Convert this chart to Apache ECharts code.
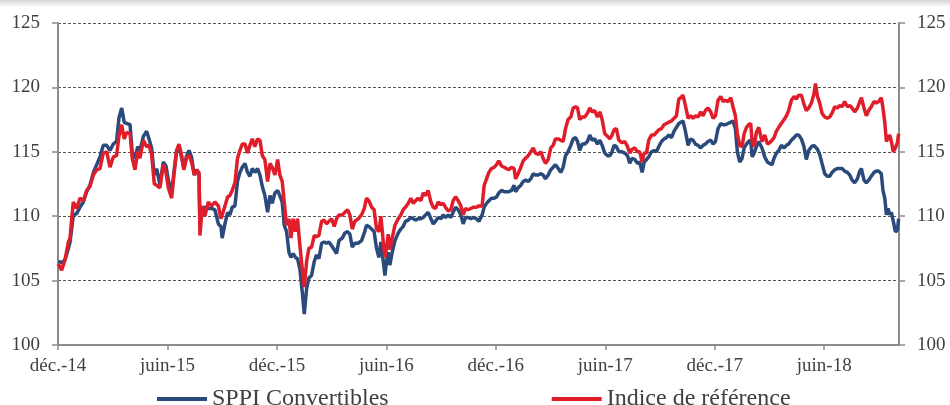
<!DOCTYPE html>
<html>
<head>
<meta charset="utf-8">
<script src="https://cdn.jsdelivr.net/npm/echarts@6/dist/echarts.min.js"></script>
<style>
  html, body { margin: 0; padding: 0; background: #ffffff; }
  #chart { width: 950px; height: 405px; }
</style>
</head>
<body>
<div id="chart"></div>
<script>
// Time position of each sample, in months since 1 Dec 2014
const months = [
  0.02,0.20,0.38,0.57,0.66,0.75,0.84,1.02,1.21,1.39,
  1.57,1.75,1.94,2.12,2.30,2.48,2.67,2.85,3.03,3.21,
  3.34,3.49,3.63,3.76,3.95,4.07,4.22,4.37,4.49,4.68,
  4.86,4.99,5.13,5.28,5.41,5.59,5.77,5.92,6.05,6.23,
  6.37,6.50,6.63,6.78,6.90,7.05,7.18,7.32,7.47,7.60,7.73,
  7.78,7.91,8.05,8.24,8.42,8.60,8.79,8.93,9.00,9.15,
  9.30,9.42,9.55,9.70,9.84,9.97,10.10,10.25,10.39,10.52,
  10.65,10.79,10.94,11.07,11.20,11.34,11.49,11.62,11.74,11.89,
  12.04,12.16,12.29,12.40,12.53,12.66,12.77,12.89,13.02,13.13,
  13.26,13.39,13.50,13.63,13.75,13.90,14.05,14.17,14.30,14.45,
  14.59,14.72,14.85,15.00,15.14,15.27,15.40,
  15.58,15.73,15.87,16.00,16.13,16.27,16.46,16.64,16.79,16.91,
  17.04,17.19,17.33,17.46,17.59,17.70,17.83,17.92,18.01,18.10,
  18.19,18.32,18.47,18.65,18.79,18.92,19.05,19.20,19.34,19.47,
  19.60,19.74,19.89,20.02,20.15,20.29,20.44,20.57,20.69,20.84,
  20.99,21.11,21.24,21.39,21.53,21.66,21.79,21.94,22.08,22.21,
  22.34,22.48,22.63,22.76,22.94,23.07,
  23.25,23.36,23.49,23.62,23.76,23.91,24.04,24.16,24.31,24.46,
  24.58,24.71,24.86,25.00,25.08,25.22,25.37,25.50,25.63,25.77,
  25.92,26.05,26.17,26.32,26.47,26.59,26.72,26.87,27.01,27.14,
  27.27,27.42,27.56,27.69,27.82,27.96,28.11,28.24,28.37,28.48,
  28.60,28.73,28.88,29.02,29.15,29.28,29.42,29.57,29.70,29.83,
  29.97,30.12,30.25,30.37,30.48,30.61,30.74,
  30.92,31.07,31.22,31.34,31.47,31.62,31.76,31.89,32.02,32.13,
  32.26,32.38,32.53,32.68,32.80,32.93,33.08,33.22,33.35,33.48,
  33.63,33.77,33.90,34.03,34.14,34.26,34.39,34.54,34.68,34.81,
  34.94,35.09,35.23,35.36,35.49,35.63,35.78,35.91,36.04,36.18,
  36.33,36.46,36.58,36.73,36.88,37.00,37.13,37.24,37.37,37.50,
  37.61,37.74,37.86,37.97,38.05,38.16,38.28,38.41,
  38.59,38.74,38.89,39.01,39.14,39.25,39.38,39.51,39.65,39.80,
  39.93,40.05,40.20,40.35,40.47,40.60,40.75,40.89,41.02,41.15,
  41.30,41.44,41.52,41.63,41.75,41.88,42.03,42.17,42.30,42.43,
  42.58,42.72,42.85,42.98,43.12,43.27,43.40,43.53,43.67,43.82,
  43.95,44.04,44.18,44.31,44.44,44.58,44.73,44.86,44.99,45.13,
  45.22,45.32,45.41,45.50,45.59,45.68,45.79,45.90,46.01,46.08
];

const sppiConvertibles = [
  106.5,106.4,106.6,107.5,108.0,109.0,110.1,110.2,110.7,111.1,
  111.9,112.4,113.4,114.0,114.6,115.5,115.5,115.1,115.6,115.8,
  117.6,118.4,117.3,117.2,117.1,114.9,114.5,115.4,115.1,116.2,
  116.6,116.0,115.3,113.2,113.7,112.4,114.2,113.9,112.8,111.8,
  113.6,115.0,115.5,114.5,113.7,114.7,115.1,114.6,113.2,113.6,113.2,
  109.5,110.4,110.7,110.6,110.6,110.5,109.4,109.2,108.3,109.4,
  110.3,110.1,110.7,110.8,112.7,113.4,113.8,114.1,113.4,113.1,
  113.7,113.4,113.7,113.2,112.3,111.6,110.3,111.6,111.0,111.8,
  112.0,111.6,111.1,109.3,108.8,107.2,106.8,107.1,106.8,106.7,
  105.9,104.1,102.4,104.4,105.2,105.4,106.5,107.0,106.7,107.9,
  108.0,107.9,108.0,107.7,107.4,107.1,108.1,
  108.3,108.7,108.8,108.6,107.6,107.9,107.9,108.1,108.7,109.3,
  109.2,109.0,108.8,107.5,106.8,108.0,106.5,105.4,106.5,107.2,
  106.2,107.2,108.1,108.7,109.0,109.2,109.6,109.7,109.9,109.8,
  109.7,109.8,109.8,109.9,110.1,110.3,109.8,109.4,109.6,109.9,
  109.8,110.1,109.9,110.1,109.9,110.3,110.7,110.5,110.1,109.4,
  109.9,109.9,109.8,109.9,109.8,109.6,
  110.1,110.7,111.0,111.2,111.4,111.4,111.5,111.8,112.0,111.9,
  111.9,111.9,112.0,112.4,111.9,112.2,112.4,112.7,112.8,112.7,
  112.9,113.3,113.2,113.2,113.3,113.2,112.9,113.2,113.6,113.8,
  114.0,113.7,113.4,113.8,114.7,115.0,115.5,116.0,116.1,115.8,
  115.1,115.6,115.6,115.8,116.3,115.9,116.0,115.6,115.9,115.5,
  114.9,114.7,114.7,115.0,115.5,115.4,115.0,
  115.0,114.9,114.7,114.1,114.5,114.4,114.1,114.2,113.4,114.2,
  114.4,114.6,115.0,115.1,115.0,115.4,115.8,116.0,116.1,116.3,
  116.1,116.6,116.9,117.2,117.3,117.4,116.6,115.5,116.0,115.9,
  115.6,115.5,115.3,115.5,115.6,115.8,115.9,115.6,115.8,116.8,
  117.2,117.1,117.1,117.2,117.3,117.4,116.8,115.0,114.2,114.5,
  115.3,115.6,115.8,115.9,114.6,114.9,115.4,115.8,
  115.3,114.6,114.2,114.1,114.0,114.5,114.9,115.1,115.5,115.3,
  115.5,115.6,115.9,116.1,116.3,116.3,116.0,115.4,114.4,115.1,
  115.4,115.5,115.4,115.2,114.8,114.1,113.3,113.1,113.1,113.4,
  113.6,113.7,113.7,113.7,113.5,113.4,113.2,112.8,112.6,112.9,
  113.5,113.7,112.8,112.6,112.8,113.1,113.4,113.5,113.5,113.3,
  112.0,111.4,110.1,110.6,110.1,110.3,109.6,108.8,108.9,109.8
];

const indiceReference = [
  106.3,105.8,106.6,108.0,108.3,109.8,111.1,110.6,111.4,111.2,
  112.0,112.3,113.2,113.6,113.7,114.9,115.0,113.8,114.6,114.7,
  116.2,117.1,116.0,116.5,116.4,114.5,113.6,115.0,114.5,115.9,
  115.4,115.5,114.8,112.5,112.4,112.2,114.0,113.4,112.2,111.4,
  113.4,115.1,115.6,114.7,113.6,114.6,114.7,114.2,113.2,113.6,113.4,
  108.5,110.8,110.0,111.1,110.8,111.1,110.8,109.8,110.1,110.8,
  111.5,111.6,112.0,112.6,114.5,115.1,115.6,115.6,114.9,115.5,
  116.0,115.4,116.0,115.9,114.7,114.4,112.7,114.1,113.8,113.2,
  114.4,113.2,112.7,111.1,109.3,109.8,108.3,109.8,108.8,109.8,
  107.7,105.9,104.5,106.5,107.5,107.6,108.5,108.4,108.5,109.6,
  109.7,109.4,109.6,109.8,109.2,109.8,110.1,
  110.1,110.3,110.5,110.1,109.0,109.6,109.8,110.1,110.6,111.4,
  111.2,110.7,110.5,109.0,108.8,110.0,108.0,106.8,107.5,108.6,
  107.4,108.3,109.3,109.8,110.1,110.5,110.7,111.0,111.4,111.0,
  111.2,111.4,111.2,111.8,111.6,112.0,111.1,110.7,110.6,111.1,
  110.9,111.0,110.7,110.4,110.5,111.2,111.5,111.2,110.8,110.1,
  110.6,110.5,110.6,110.7,110.7,110.8,
  110.8,112.4,112.9,113.4,113.7,113.8,114.0,114.3,113.9,113.8,
  113.7,113.6,113.8,113.7,112.9,113.3,113.8,114.3,114.5,114.7,
  115.0,115.3,114.9,114.8,115.0,114.5,114.1,114.4,115.3,115.5,
  116.0,116.0,115.9,115.8,116.8,117.5,117.7,118.4,118.5,118.4,
  117.5,117.7,117.7,118.0,118.4,118.1,118.2,117.7,118.1,117.5,
  116.4,116.2,116.0,116.3,116.7,116.8,115.9,
  115.7,115.8,115.4,114.9,115.2,115.3,115.0,115.0,114.2,114.9,
  114.9,115.9,116.3,116.3,116.5,116.7,116.8,117.1,117.2,117.3,
  117.4,117.6,117.8,119.1,119.2,119.4,118.6,117.6,117.8,117.6,
  117.8,117.7,118.1,117.8,118.2,118.4,118.1,117.6,117.8,119.0,
  119.3,118.9,119.0,118.9,119.2,118.5,117.8,116.4,115.5,115.4,
  116.4,116.9,117.1,117.2,115.8,115.4,116.5,116.9,
  115.8,116.3,115.6,115.7,115.9,116.1,116.6,116.9,117.2,117.5,
  117.8,118.2,119.0,119.3,119.1,119.4,119.4,118.7,118.2,118.4,
  118.8,119.5,120.3,119.3,118.8,118.0,117.7,117.6,117.7,118.0,
  118.5,118.4,118.6,118.5,118.9,118.5,118.6,118.4,118.1,118.4,
  118.9,119.2,118.4,117.8,118.2,118.5,118.9,118.8,118.9,119.2,
  118.4,117.3,115.8,115.7,116.3,115.8,115.0,115.3,115.7,116.4
];

const tickLabels = ['déc.-14','juin-15','déc.-15','juin-16','déc.-16','juin-17','déc.-17','juin-18'];
const seriesNames = ['SPPI Convertibles','Indice de référence'];

const FONT = '"Liberation Serif", "DejaVu Serif", serif';
const axisGrey = '#8c8c8c';
const textCol = '#404040';

function zip(xs, ys) { return xs.map((x, i) => [x, ys[i]]); }

const chart = echarts.init(document.getElementById('chart'), null, { renderer: 'canvas' });

const yAxisCommon = {
  type: 'value', min: 100, max: 125, interval: 5,
  axisLine: { show: true, lineStyle: { color: axisGrey, width: 2 } },
  axisTick: { show: true, inside: false, length: 6, lineStyle: { color: axisGrey, width: 1.5 } },
  axisLabel: { fontFamily: FONT, fontSize: 19, color: textCol, margin: 18 }
};

chart.setOption({
  animation: false,
  backgroundColor: '#ffffff',
  graphic: [{
    type: 'rect', left: 0, top: 0, silent: true,
    shape: { width: 950, height: 7 },
    style: { fill: new echarts.graphic.LinearGradient(0, 0, 0, 1, [
      { offset: 0, color: 'rgba(0,0,0,0.16)' }, { offset: 1, color: 'rgba(0,0,0,0)' }]) }
  }],
  grid: { left: 58, right: 51, top: 23, bottom: 60, containLabel: false },
  legend: {
    data: seriesNames,
    left: 152, top: 382,
    icon: 'rect', itemWidth: 50, itemHeight: 4, itemGap: 163,
    textStyle: { fontFamily: FONT, fontSize: 24, color: textCol }
  },
  xAxis: {
    type: 'value', min: 0, max: 46.1, interval: 6,
    axisLine: { show: true, onZero: false, lineStyle: { color: axisGrey, width: 2 } },
    axisTick: { show: true, inside: false, length: 5, lineStyle: { color: axisGrey, width: 1.5 } },
    splitLine: { show: false },
    axisLabel: {
      fontFamily: FONT, fontSize: 19, color: textCol, margin: 12,
      showMaxLabel: false,
      formatter: v => (Math.abs(v / 6 - Math.round(v / 6)) < 1e-6 ? (tickLabels[Math.round(v / 6)] || '') : '')
    }
  },
  yAxis: [
    Object.assign({}, yAxisCommon, {
      position: 'left',
      splitLine: { show: true, lineStyle: { color: '#555555', width: 1, type: [3, 2] } }
    }),
    Object.assign({}, yAxisCommon, {
      position: 'right',
      splitLine: { show: false }
    })
  ],
  series: [
    {
      name: seriesNames[0], type: 'line', yAxisIndex: 0,
      data: zip(months, sppiConvertibles),
      showSymbol: false, symbol: 'none',
      lineStyle: { color: '#2b4a7c', width: 3.5 },
      itemStyle: { color: '#2b4a7c' }
    },
    {
      name: seriesNames[1], type: 'line', yAxisIndex: 0,
      data: zip(months, indiceReference),
      showSymbol: false, symbol: 'none',
      lineStyle: { color: '#e01e2b', width: 3.5 },
      itemStyle: { color: '#e01e2b' }
    }
  ]
});
</script>
</body>
</html>
